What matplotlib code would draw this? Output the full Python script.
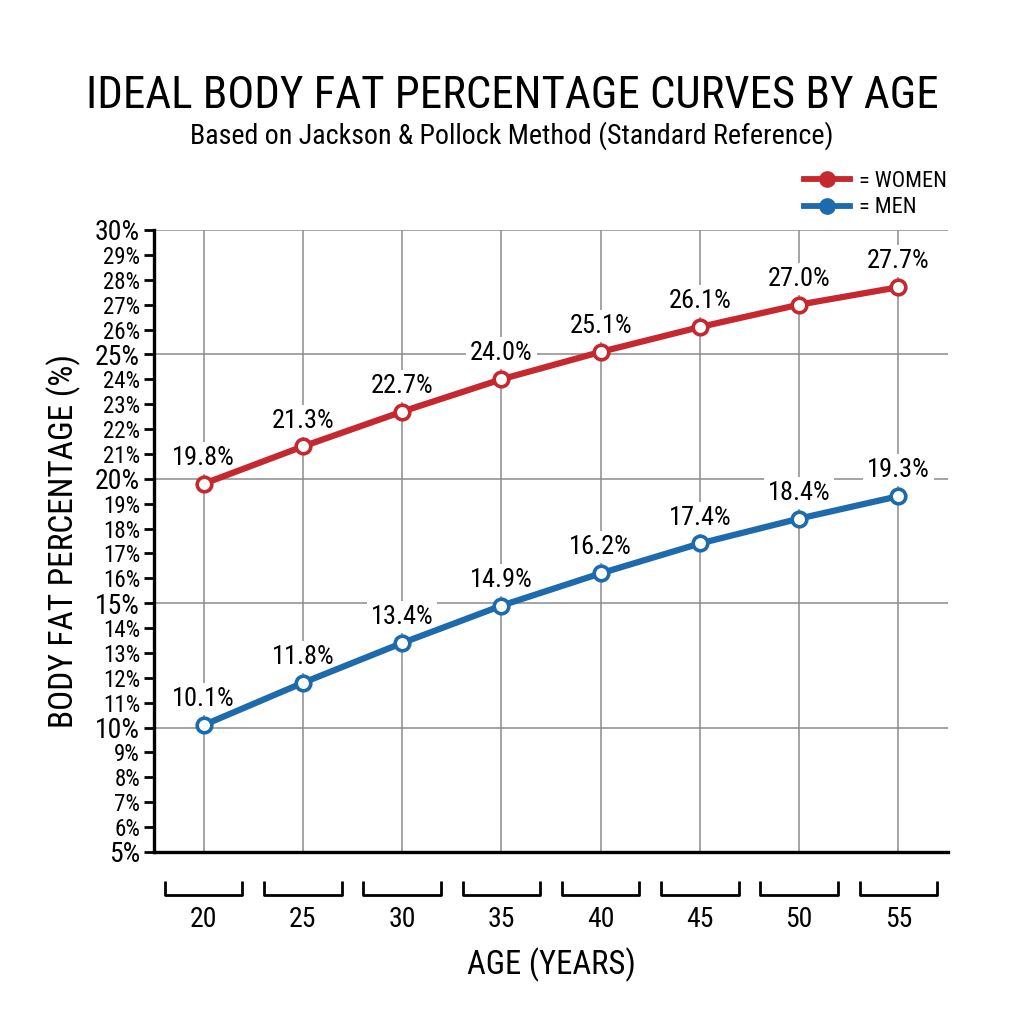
import matplotlib
matplotlib.use("Agg")
import matplotlib.pyplot as plt
from matplotlib.lines import Line2D
from matplotlib.ticker import MultipleLocator, FuncFormatter
import matplotlib.transforms as mtransforms

ages = [20, 25, 30, 35, 40, 45, 50, 55]
women = [19.8, 21.3, 22.7, 24.0, 25.1, 26.1, 27.0, 27.7]
men = [10.1, 11.8, 13.4, 14.9, 16.2, 17.4, 18.4, 19.3]
series_names = ["= WOMEN", "= MEN"]

RED = "#c6282f"
BLUE = "#1d6aad"

plt.rcParams['font.family'] = ['Roboto Condensed', 'DejaVu Sans']

fig = plt.figure(figsize=(10.24, 10.24), dpi=100)
ax = fig.add_axes([154/1024, 1 - 852/1024, 794/1024, 622/1024])

ax.set_xlim(17.5, 57.5)
ax.set_ylim(5, 30)

# grid
for a in ages:
    ax.axvline(a, color="#8c8c8c", lw=1.1, zorder=1)
for v in [10, 15, 20, 25, 30]:
    ax.axhline(v, color="#8c8c8c", lw=1.1, zorder=1)

for vals, col in [(women, RED), (men, BLUE)]:
    ax.plot(ages, vals, color=col, lw=4.5, marker='o', ms=10.5,
            mfc='white', mec=col, mew=2.6, zorder=3)
    for a, v in zip(ages, vals):
        ax.annotate(f"{v:.1f}%", (a, v), xytext=(0, 10), textcoords='offset points',
                    ha='center', va='bottom', fontsize=19,
                    bbox=dict(boxstyle='square,pad=0.15', fc='white', ec='none'),
                    zorder=2)

for s in ['top', 'right']:
    ax.spines[s].set_visible(False)
for s in ['left', 'bottom']:
    ax.spines[s].set_linewidth(2.4)
    ax.spines[s].set_color('black')

ax.yaxis.set_major_locator(MultipleLocator(5))
ax.yaxis.set_minor_locator(MultipleLocator(1))
fmt = FuncFormatter(lambda v, p: f"{int(round(v))}%")
ax.yaxis.set_major_formatter(fmt)
ax.yaxis.set_minor_formatter(fmt)
ax.tick_params(axis='y', which='major', length=7, width=2, labelsize=20, pad=3)
ax.tick_params(axis='y', which='minor', length=7, width=2, labelsize=16.5, pad=3)

ax.set_xticks(ages)
ax.set_xticklabels([str(a) for a in ages])
ax.tick_params(axis='x', length=0, labelsize=20, pad=39)

# brackets under each age
trans = mtransforms.blended_transform_factory(ax.transData, ax.transAxes)
for a in ages:
    ax.plot([a - 1.95, a - 1.95, a + 1.95, a + 1.95], [-0.046, -0.069, -0.069, -0.046],
            color='black', lw=2, transform=trans, clip_on=False, solid_capstyle='butt')

ax.text(0.5, -0.182, "AGE (YEARS)", transform=ax.transAxes, ha='center', va='center', fontsize=23.5)
ax.text(-0.114, 0.5, "BODY FAT PERCENTAGE (%)", transform=ax.transAxes, ha='center',
        va='center', rotation=90, fontsize=24)

fig.text(0.5, 1 - 96/1024, "IDEAL BODY FAT PERCENTAGE CURVES BY AGE", ha='center', va='center', fontsize=32.3)
fig.text(0.5, 1 - 136/1024, "Based on Jackson & Pollock Method (Standard Reference)", ha='center', va='center', fontsize=20.2)

handles = [Line2D([], [], color=RED, lw=4.2, marker='o', ms=11, mfc=RED, mec=RED),
           Line2D([], [], color=BLUE, lw=4.2, marker='o', ms=11, mfc=BLUE, mec=BLUE)]
fig.legend(handles, series_names, loc='upper right', bbox_to_anchor=(956/1024, 1 - 162/1024),
           frameon=False, fontsize=16, handlelength=2.1, handletextpad=0.4, labelspacing=0.25,
           borderaxespad=0)

fig.savefig("out.png", dpi=100, facecolor='white')
